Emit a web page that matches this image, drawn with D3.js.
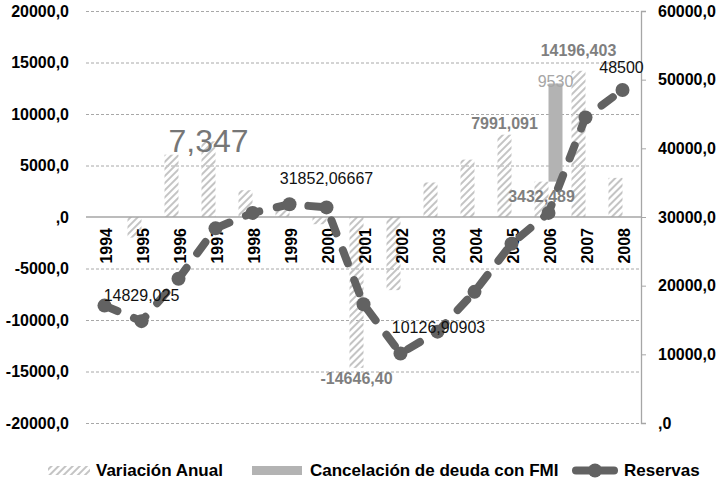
<!DOCTYPE html>
<html>
<head>
<meta charset="utf-8">
<script src="https://cdn.jsdelivr.net/npm/d3@7"></script>
<style>
  body { margin: 0; background: #fff; }
  svg text { font-family: "Liberation Sans", Arial, sans-serif; }
</style>
</head>
<body>
<svg id="chart" width="719" height="484"></svg>
<script>
const years = ["1994","1995","1996","1997","1998","1999","2000","2001","2002","2003","2004","2005","2006","2007","2008"];
const variacion = [null, -2000, 6050, 7347, 2600, 1300, -700, -14646.40, -7100, 3350, 5570, 7991.091, 3432.489, 14196.403, 3800];
const cancelacion = [null, null, null, null, null, null, null, null, null, null, null, null, 9530, null, null];
const reservas = [17100, 14829.025, 21000, 28350, 30600, 31852.06667, 31400, 17300, 10126.90903, 13300, 19100, 26100, 30600, 44500, 48500];
const leftTicks = [-20000, -15000, -10000, -5000, 0, 5000, 10000, 15000, 20000];
const rightTicks = [0, 10000, 20000, 30000, 40000, 50000, 60000];

const svg = d3.select("#chart");
const plotL = 86, plotR = 641, plotT = 11, plotB = 423;

const x = d3.scaleBand().domain(years).range([plotL, plotR]);
const yL = d3.scaleLinear().domain([-20000, 20000]).range([plotB, plotT]);
const yR = d3.scaleLinear().domain([0, 60000]).range([plotB, plotT]);
const barW = 14;

const fmt = d => d === 0 ? ",0" : d + ",0";

// hatch pattern
svg.append("defs").append("pattern")
    .attr("id", "hatch")
    .attr("patternUnits", "userSpaceOnUse")
    .attr("width", 5).attr("height", 5)
    .attr("patternTransform", "rotate(45)")
  .append("rect")
    .attr("width", 2).attr("height", 5)
    .attr("fill", "#c4c4c4");

// gridlines
svg.append("g").selectAll("line")
    .data(leftTicks.filter(d => d !== 0))
    .enter().append("line")
    .attr("x1", plotL).attr("x2", plotR)
    .attr("y1", d => yL(d) + 0.5).attr("y2", d => yL(d) + 0.5)
    .attr("stroke", "#a8a8a8")
    .attr("stroke-dasharray", "3,2");

// left axis
const gL = svg.append("g")
    .attr("transform", `translate(${plotL},0)`)
    .call(d3.axisLeft(yL).tickValues(leftTicks).tickFormat(fmt).tickSize(0).tickPadding(17));
gL.select(".domain").remove();
gL.selectAll("text").attr("font-size", 16).attr("font-weight", "bold").attr("fill", "#000");

// right axis
const gR = svg.append("g")
    .attr("transform", `translate(${plotR},0)`)
    .call(d3.axisRight(yR).tickValues(rightTicks).tickFormat(fmt).tickSize(5).tickPadding(12));
gR.select(".domain").attr("stroke", "#a6a6a6").attr("stroke-width", 1.3);
gR.selectAll("line").attr("stroke", "#a6a6a6");
gR.selectAll("text").attr("font-size", 16).attr("font-weight", "bold").attr("fill", "#000");

// bars: variacion anual
svg.append("g").selectAll("rect")
    .data(years.map((y, i) => ({ y, v: variacion[i] })).filter(d => d.v !== null))
    .enter().append("rect")
    .attr("x", d => x(d.y) + x.bandwidth() / 2 - barW)
    .attr("width", barW)
    .attr("y", d => yL(Math.max(0, d.v)))
    .attr("height", d => Math.abs(yL(d.v) - yL(0)))
    .attr("fill", "url(#hatch)");

// bars: cancelacion (stacked above variacion, beside it)
svg.append("g").selectAll("rect")
    .data(years.map((y, i) => ({ y, v: cancelacion[i], base: variacion[i] })).filter(d => d.v !== null))
    .enter().append("rect")
    .attr("x", d => x(d.y) + x.bandwidth() / 2)
    .attr("width", barW)
    .attr("y", d => yL(d.base + d.v))
    .attr("height", d => yL(d.base) - yL(d.base + d.v))
    .attr("fill", "#b3b3b3");

// zero line
svg.append("line")
    .attr("x1", plotL).attr("x2", plotR)
    .attr("y1", yL(0)).attr("y2", yL(0))
    .attr("stroke", "#a6a6a6").attr("stroke-width", 1.5);

// year labels
svg.append("g").selectAll("text")
    .data(years)
    .enter().append("text")
    .attr("transform", d => `translate(${x(d) + x.bandwidth() / 2 + 2},${yL(0) + 11}) rotate(-90)`)
    .attr("text-anchor", "end")
    .attr("dy", "0.35em")
    .attr("font-size", 16).attr("font-weight", "bold").attr("fill", "#000")
    .text(d => d);

// reservas line
const cx = d => x(d) + x.bandwidth() / 2;
const line = d3.line().x(d => cx(d.y)).y(d => yR(d.v));
const pts = years.map((y, i) => ({ y, v: reservas[i] }));
svg.append("path")
    .datum(pts)
    .attr("d", line)
    .attr("fill", "none")
    .attr("stroke", "#626262")
    .attr("stroke-width", 8)
    .attr("stroke-linecap", "round")
    .attr("stroke-dasharray", "14,18");
svg.append("g").selectAll("circle")
    .data(pts)
    .enter().append("circle")
    .attr("cx", d => cx(d.y)).attr("cy", d => yR(d.v))
    .attr("r", 7).attr("fill", "#626262");

// data labels
const barLabels = [
  { i: 3, text: "7,347", dy: 11, size: 32, weight: "normal", color: "#767676" },
  { i: 7, text: "-14646,40", dy: 16, size: 16, weight: "bold", color: "#7f7f7f" },
  { i: 11, text: "7991,091", dy: -6, size: 16, weight: "bold", color: "#7f7f7f" },
  { i: 12, text: "3432,489", dy: 20, size: 16, weight: "bold", color: "#7f7f7f" },
  { i: 13, text: "14196,403", dy: -15, size: 16, weight: "bold", color: "#7f7f7f" }
];
svg.append("g").selectAll("text")
    .data(barLabels)
    .enter().append("text")
    .attr("x", d => x(years[d.i]) + x.bandwidth() / 2 - barW / 2)
    .attr("y", d => yL(variacion[d.i]) + d.dy)
    .attr("text-anchor", "middle")
    .attr("font-size", d => d.size).attr("font-weight", d => d.weight).attr("fill", d => d.color)
    .text(d => d.text);

svg.append("text")
    .attr("x", x(years[12]) + x.bandwidth() / 2 + barW / 2)
    .attr("y", yL(variacion[12] + cancelacion[12]) + 4)
    .attr("text-anchor", "middle")
    .attr("font-size", 16).attr("fill", "#a6a6a6")
    .text("9530");

const lineLabels = [
  { i: 1, text: "14829,025", dx: 0, dy: -20 },
  { i: 5, text: "31852,06667", dx: 37, dy: -20 },
  { i: 8, text: "10126,90903", dx: 38, dy: -20 },
  { i: 14, text: "48500", dx: -1, dy: -17 }
];
svg.append("g").selectAll("text")
    .data(lineLabels)
    .enter().append("text")
    .attr("x", d => cx(years[d.i]) + d.dx)
    .attr("y", d => yR(reservas[d.i]) + d.dy)
    .attr("text-anchor", "middle")
    .attr("font-size", 16).attr("fill", "#111")
    .text(d => d.text);

// legend
const lg = svg.append("g").attr("font-size", 17).attr("font-weight", "bold");
lg.append("rect").attr("x", 48).attr("y", 466).attr("width", 42).attr("height", 9).attr("fill", "url(#hatch)");
lg.append("text").attr("x", 96).attr("y", 476).text("Variación Anual");
lg.append("rect").attr("x", 252).attr("y", 466).attr("width", 50).attr("height", 9).attr("fill", "#b3b3b3");
lg.append("text").attr("x", 310).attr("y", 476).text("Cancelación de deuda con FMI");
lg.append("line").attr("x1", 576).attr("x2", 614).attr("y1", 470.5).attr("y2", 470.5)
    .attr("stroke", "#626262").attr("stroke-width", 8).attr("stroke-linecap", "round");
lg.append("circle").attr("cx", 595).attr("cy", 470.5).attr("r", 7).attr("fill", "#626262");
lg.append("text").attr("x", 624).attr("y", 476).text("Reservas");
</script>
</body>
</html>
